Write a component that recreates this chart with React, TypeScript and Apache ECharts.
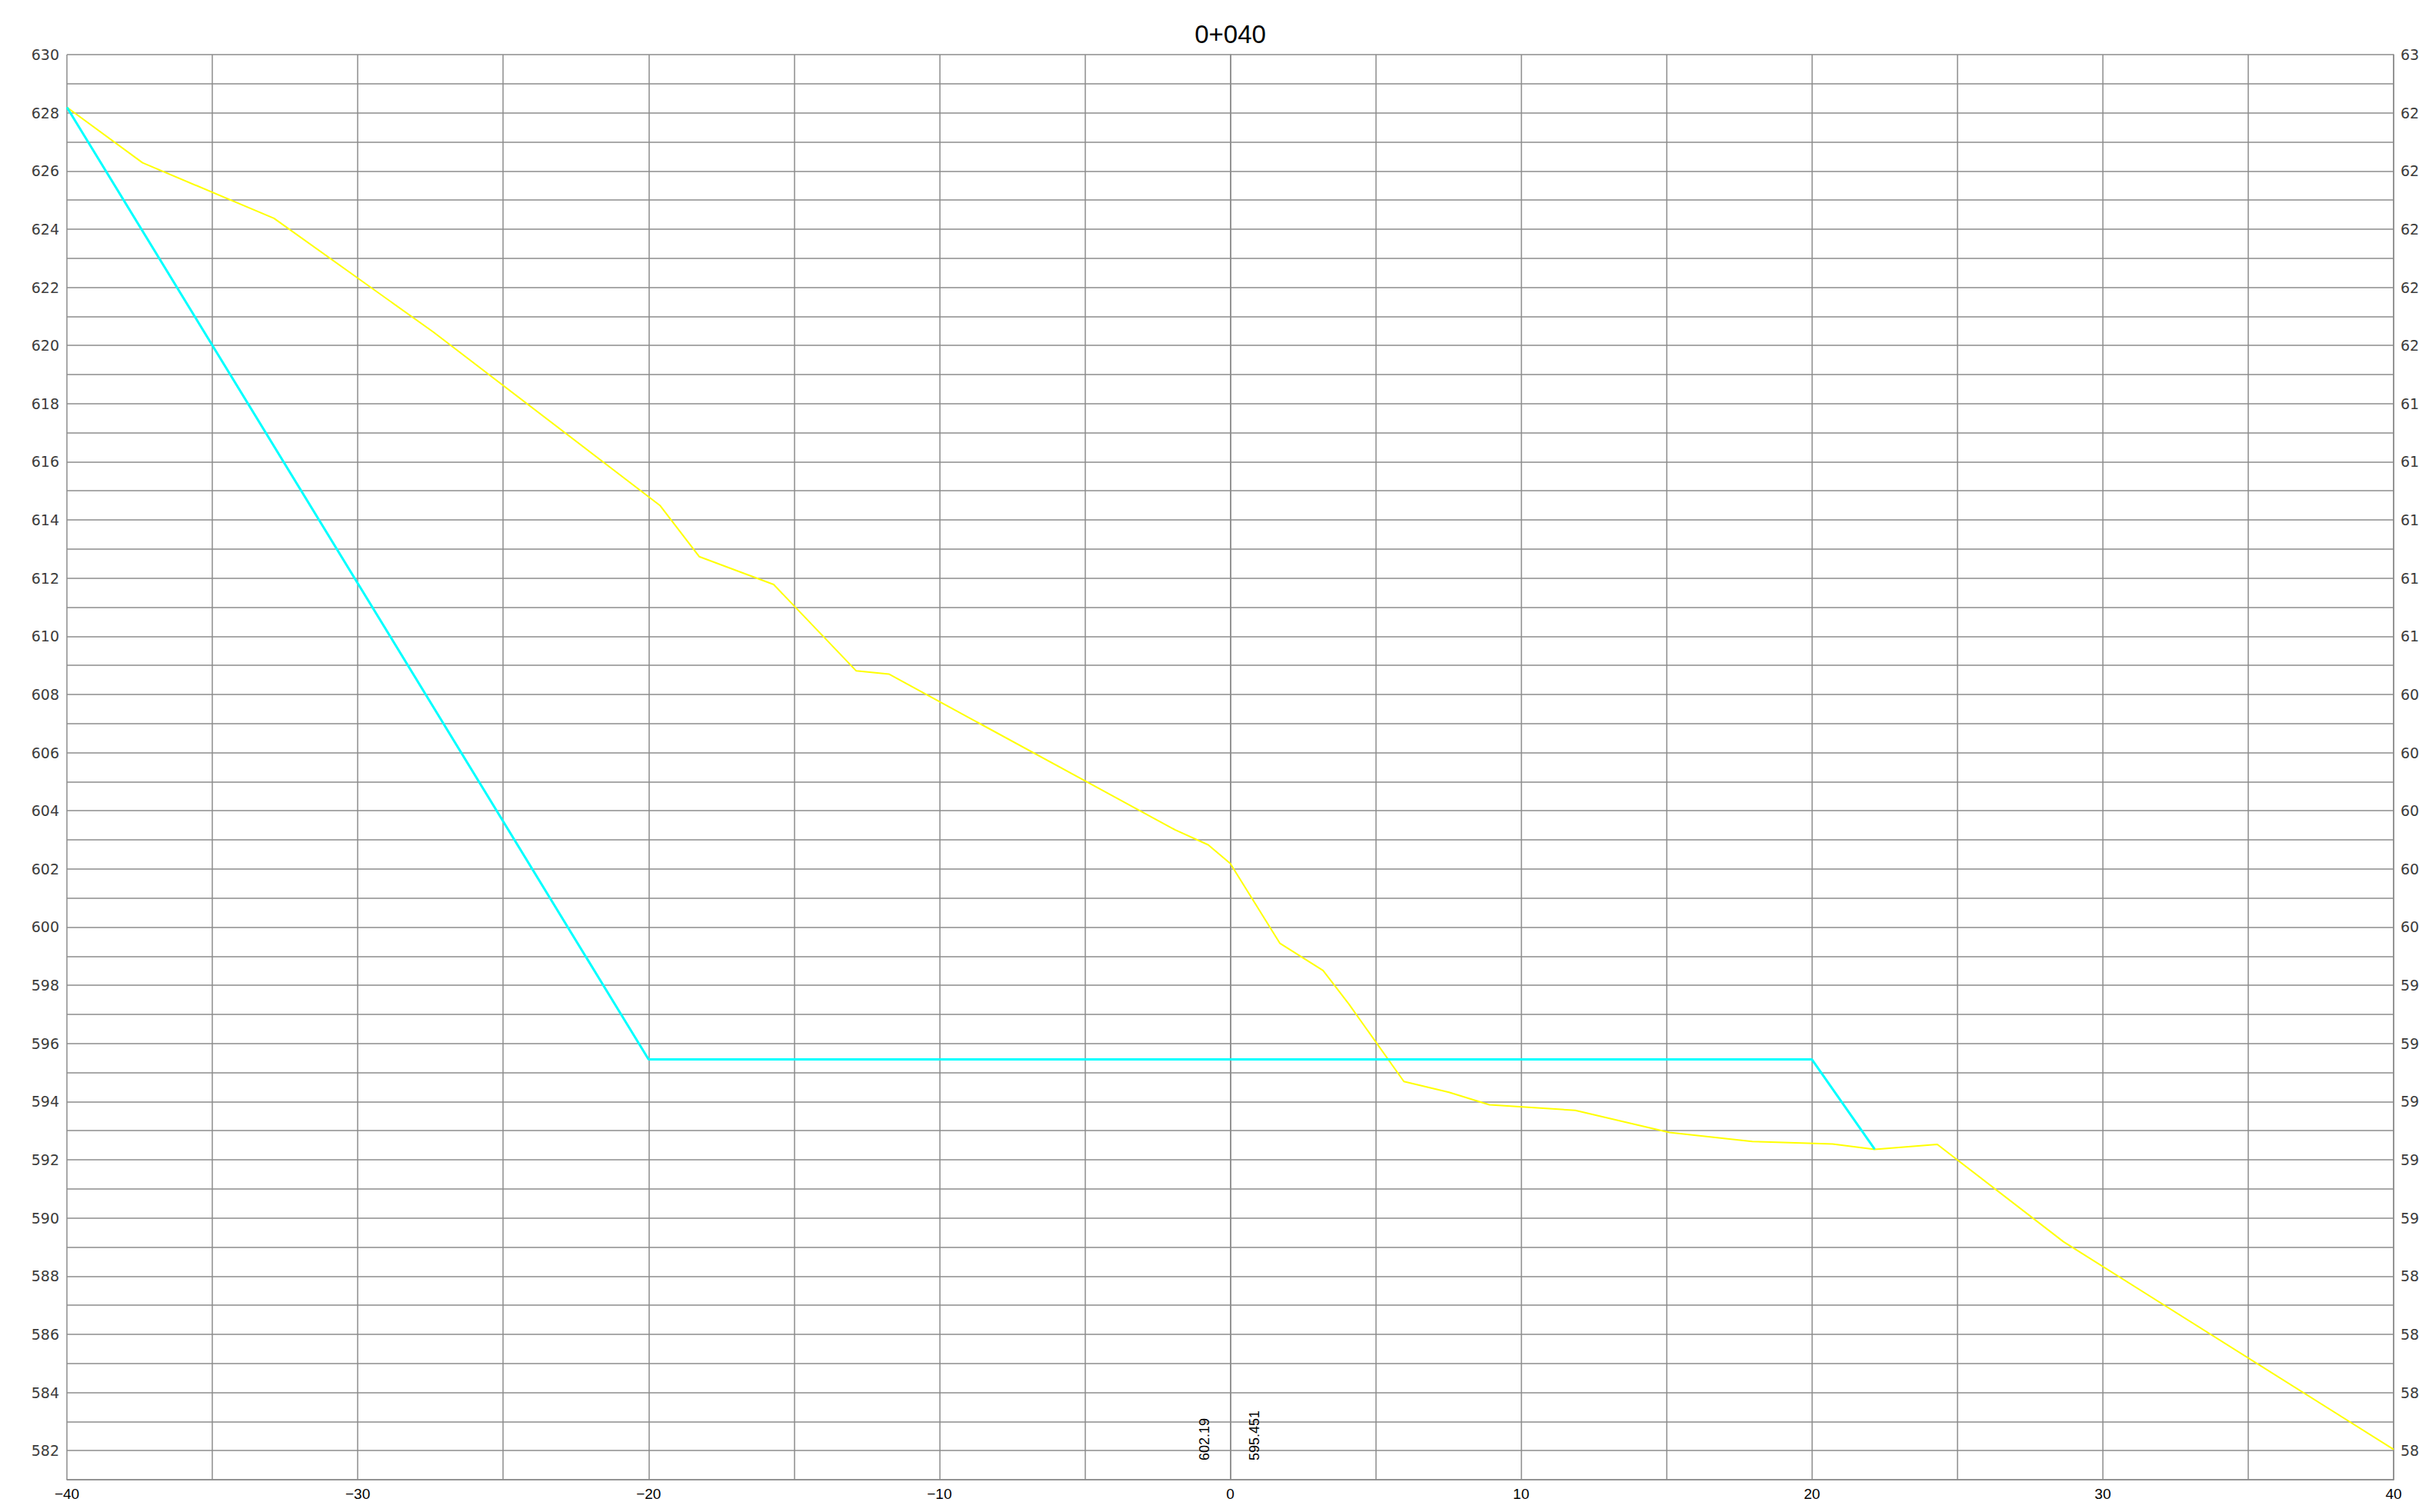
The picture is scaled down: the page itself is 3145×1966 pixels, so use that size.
import { useEffect, useRef } from 'react';
import * as echarts from 'echarts';

// Cross-section at chainage 0+040: offset from centreline (m) vs elevation (m)
const SECTION_TITLE = '0+040';

// Existing ground profile
const groundOffsets = [
  -40, -37.4, -32.88, -27.4, -19.6, -18.26, -15.7, -12.86, -11.74, -1.89, -0.76, 0,
  1.71, 3.19, 4.08, 5.97, 7.52, 8.91, 11.86, 15.1, 17.95, 20.71, 22.16, 24.31, 28.65, 40,
];
const groundElevations = [
  628.19, 626.28, 624.37, 620.46, 614.49, 612.74, 611.78, 608.81, 608.7, 603.34, 602.83, 602.19,
  599.44, 598.51, 597.35, 594.69, 594.32, 593.89, 593.7, 592.94, 592.63, 592.54, 592.36, 592.53, 589.18, 582.04,
];

// Design (formation) profile
const designOffsets = [-40, -20, 20, 22.16];
const designElevations = [628.19, 595.451, 595.451, 592.36];

// Axis ranges and tick spacing
const X_MIN = -40;
const X_MAX = 40;
const X_GRID_STEP = 5;
const X_LABEL_STEP = 10;
const Y_MIN = 581;
const Y_MAX = 630;
const Y_GRID_STEP = 1;
const Y_LABEL_STEP = 2;

const GRID_COLOR = '#8c8c8c';

const pairs = (xs: number[], ys: number[]) => xs.map((x, i) => [x, ys[i]]);

const formatX = (v: number) => {
  if (Math.round(v) % X_LABEL_STEP !== 0) return '';
  return v < 0 ? '\u2212' + Math.abs(v) : String(v);
};
const formatY = (v: number) => (Math.round(v) % Y_LABEL_STEP === 0 ? String(v) : '');

export default function App() {
  const ref = useRef<HTMLDivElement>(null);

  useEffect(() => {
    if (!ref.current) return;
    const chart = echarts.init(ref.current, null, { renderer: 'svg' });

    const yAxisCommon = {
      type: 'value',
      min: Y_MIN,
      max: Y_MAX,
      interval: Y_GRID_STEP,
      axisTick: { show: false },
      axisLine: { show: true, lineStyle: { color: GRID_COLOR, width: 1.5 } },
      axisLabel: {
        formatter: formatY,
        fontFamily: 'DejaVu Sans',
        fontSize: 19,
        color: '#3c3c3c',
      },
    };

    chart.setOption({
      animation: false,
      backgroundColor: '#ffffff',
      grid: {
        left: 87,
        right: 33,
        top: 71,
        bottom: 42,
        containLabel: false,
        outerBoundsMode: 'none',
      },
      xAxis: {
        type: 'value',
        min: X_MIN,
        max: X_MAX,
        interval: X_GRID_STEP,
        axisTick: { show: false },
        axisLine: { show: true, onZero: false, lineStyle: { color: GRID_COLOR, width: 1.5 } },
        splitLine: { show: true, lineStyle: { color: GRID_COLOR, width: 1.5 } },
        axisLabel: {
          formatter: formatX,
          fontFamily: 'Liberation Sans',
          fontSize: 19,
          color: '#000000',
          margin: 9,
        },
      },
      yAxis: [
        {
          ...yAxisCommon,
          position: 'left',
          splitLine: { show: true, lineStyle: { color: GRID_COLOR, width: 1.5 } },
          axisLabel: { ...yAxisCommon.axisLabel, margin: 10 },
        },
        {
          ...yAxisCommon,
          position: 'right',
          splitLine: { show: false },
          axisLabel: { ...yAxisCommon.axisLabel, margin: 9 },
        },
      ],
      series: [
        {
          name: 'Ground',
          type: 'line',
          data: pairs(groundOffsets, groundElevations),
          showSymbol: false,
          lineStyle: { color: '#ffff00', width: 2 },
          z: 3,
        },
        {
          name: 'Design',
          type: 'line',
          data: pairs(designOffsets, designElevations),
          showSymbol: false,
          lineStyle: { color: '#00ffff', width: 3 },
          z: 4,
        },
      ],
    });

    // Centreline annotations: ground and design elevations at offset 0
    const centreGround = groundElevations[groundOffsets.indexOf(0)];
    const centreDesign = designElevations[1];
    const [cx, by] = chart.convertToPixel({ gridIndex: 0 }, [0, Y_MIN]) as number[];
    const [tx] = chart.convertToPixel({ gridIndex: 0 }, [(X_MIN + X_MAX) / 2, Y_MAX]) as number[];
    const labelStyle = {
      fontFamily: 'Liberation Sans',
      fontSize: 18,
      fill: '#000000',
      textAlign: 'left',
      textVerticalAlign: 'middle',
    };

    chart.setOption({
      graphic: [
        {
          type: 'text',
          x: tx,
          y: 44,
          style: {
            text: SECTION_TITLE,
            fontFamily: 'Liberation Sans',
            fontSize: 33,
            fill: '#000000',
            textAlign: 'center',
            textVerticalAlign: 'middle',
          },
        },
        {
          type: 'text',
          x: cx - 34,
          y: by - 25,
          rotation: Math.PI / 2,
          style: { ...labelStyle, text: String(centreGround) },
        },
        {
          type: 'text',
          x: cx + 31,
          y: by - 25,
          rotation: Math.PI / 2,
          style: { ...labelStyle, text: String(centreDesign) },
        },
      ],
    });

    return () => chart.dispose();
  }, []);

  return (
    <div
      ref={ref}
      style={{ position: 'fixed', left: 0, top: 0, width: 3145, height: 1966, background: '#fff' }}
    />
  );
}
